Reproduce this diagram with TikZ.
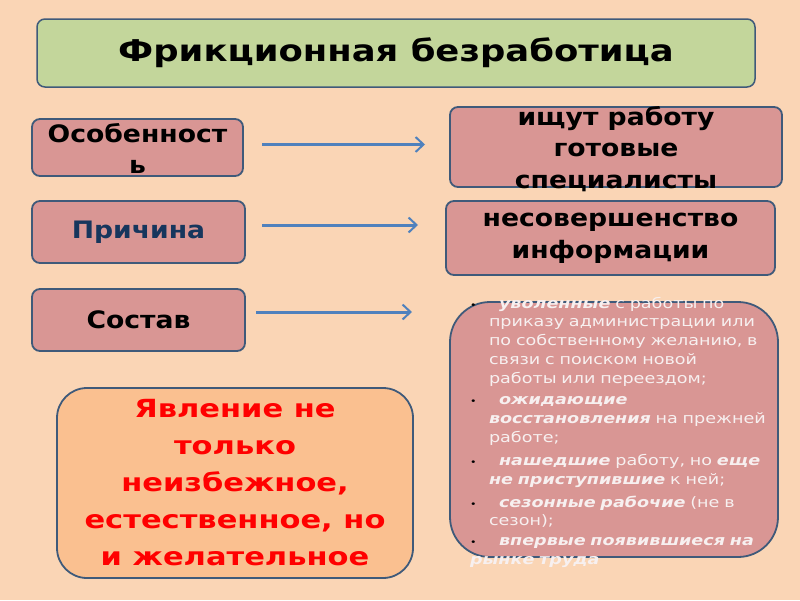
\documentclass[tikz,border=0pt]{standalone}
\usepackage{fontspec}
\setmainfont{DejaVu Sans}[FakeStretch=1.22]
\newfontfamily\boxfont{DejaVu Sans}[FakeStretch=1.11]
\newfontfamily\headfont{DejaVu Sans}[FakeStretch=1.18]
\usetikzlibrary{arrows.meta}

\definecolor{peach}{HTML}{FAD5B5}
\definecolor{headgreen}{HTML}{C3D69B}
\definecolor{frame}{HTML}{3F5A7A}
\definecolor{rosebox}{HTML}{D99694}
\definecolor{orangebox}{HTML}{FAC090}
\definecolor{arrowblue}{HTML}{4F81BD}
\definecolor{navytxt}{HTML}{17365D}
\definecolor{listtxt}{HTML}{F7F0F0}

\newcommand{\itm}[1]{\par\noindent\hangindent=19pt\hangafter=1%
  \makebox[19pt][l]{\textcolor{black}{\fontsize{9}{19}\selectfont•}}#1}
\newcommand{\bi}[1]{\textbf{\textit{#1}}}

\tikzset{
    every node/.append style={
        inner sep=0pt,
        outer sep=0pt,
        text centered
    },
    headbox/.style={
        draw=frame,
        fill=headgreen,
        line width=1.5pt,
        rounded corners=8pt,
        font=\headfont\bfseries\fontsize{30}{36}\selectfont
    },
    keybox/.style={
        draw=frame,
        fill=rosebox,
        line width=1.8pt,
        rounded corners=8pt,
        align=center,
        font=\boxfont\bfseries\fontsize{24}{32}\selectfont
    },
    bigbox/.style={
        draw=frame,
        line width=1.8pt,
        align=center
    },
    boxtext/.style={
        align=center,
        font=\boxfont\bfseries\fontsize{24}{31.5}\selectfont
    },
    listtext/.style={
        text width=320pt,
        align=left,
        text=listtxt,
        font=\fontsize{14.4}{18.7}\selectfont
    },
    arr/.style={
        draw=arrowblue,
        line width=3pt,
        -{Straight Barb[length=8pt,width=15pt,line width=2pt]}
    }
}

\begin{document}
\begin{tikzpicture}[x=1pt,y=-1pt]
    \useasboundingbox (0,0) rectangle (800,600);
    \fill[peach] (0,0) rectangle (800,600);

    % title
    \node[headbox, minimum width=718pt, minimum height=68pt] (head) at (396,53)
        {Фрикционная безработица};

    % left column
    \node[keybox, minimum width=211pt, minimum height=57pt] (osob) at (137.5,147.5) {};
    \node[boxtext] (osobtxt) at ([yshift=-1pt]osob.center) {Особенност\\ь};
    \node[keybox, minimum width=213pt, minimum height=62pt, text=navytxt] (prich) at (138.5,232)
        {Причина};
    \node[keybox, minimum width=213pt, minimum height=62pt] (sostav) at (138.5,320)
        {Состав};

    % right column
    \node[keybox, minimum width=332pt, minimum height=80pt] (ish) at (616,147) {};
    \node[boxtext] (ishtxt) at ([yshift=-2pt]ish.center) {ищут работу\\готовые\\специалисты};
    \node[keybox, minimum width=329pt, minimum height=74pt] (nesov) at (610.5,238)
        {несовершенство\\информации};
    \node[bigbox, fill=rosebox, rounded corners=40pt, minimum width=328pt, minimum height=255pt] (lst) at (614,429.5) {};
    \node[listtext] (lsttxt) at ([xshift=16pt,yshift=1pt]lst.center) {%
        \itm{\hspace{10pt}\bi{уволенные} с работы по\newline приказу администрации или\newline по собственному желанию, в\newline связи с поиском новой\newline работы или переездом;}\par\vspace{3pt}
        \itm{\hspace{10pt}\bi{ожидающие}\newline\bi{восстановления} на прежней\newline работе;}\par\vspace{5pt}
        \itm{\hspace{10pt}\bi{нашедшие} работу, но \bi{еще}\newline\bi{не приступившие} к ней;}\par\vspace{4pt}
        \itm{\hspace{10pt}\bi{сезонные рабочие} (не в\newline сезон);}\par\vspace{1pt}
        \itm{\hspace{10pt}\bi{впервые появившиеся на}\newline\bi{рынке труда}}};

    % bottom left
    \node[bigbox, fill=orangebox, rounded corners=30pt, minimum width=356pt, minimum height=190pt,
        text=red, font=\bfseries\fontsize{25}{37}\selectfont] (yavl) at (235,483)
        {Явление не\\только\\неизбежное,\\естественное, но\\и желательное};

    % connectors
    \draw[arr, shorten <=19pt, shorten >=25pt] ([yshift=3pt]osob.east) -- ([yshift=3pt]osob.east -| ish.west);
    \draw[arr, shorten <=17pt, shorten >=28pt] ([yshift=7pt]prich.east) -- ([yshift=7pt]prich.east -| nesov.west);
    \draw[arr, shorten <=11pt, shorten >=38pt] ([yshift=8pt]sostav.east) -- ([yshift=8pt]sostav.east -| lst.west);
\end{tikzpicture}
\end{document}
